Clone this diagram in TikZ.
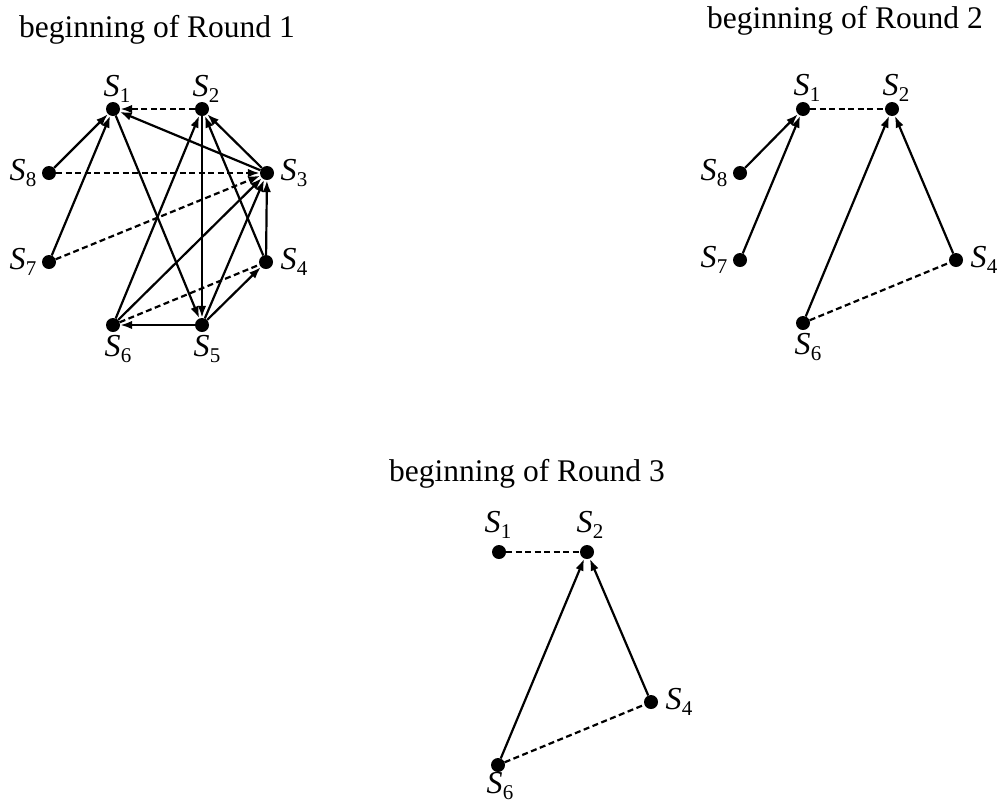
\documentclass[tikz,border=0pt]{standalone}
\usepackage{fontspec}
\setmainfont{Liberation Serif}
\usetikzlibrary{arrows.meta}
\newcommand\Slab[1]{\textit{S}\kern0.01em\raisebox{-0.18em}{\fontsize{21}{21}\selectfont #1}}
\begin{document}
\begin{tikzpicture}[x=1pt,y=-1pt,
  dot/.style={circle,fill=black,inner sep=0pt,minimum size=14pt},
  lab/.style={inner sep=0pt,font=\fontsize{32}{32}\selectfont},
  ttl/.style={inner sep=0pt,anchor=base,font=\fontsize{31.5}{31.5}\selectfont},
  edge/.style={line width=2.2pt},
  arr/.style={edge,-{Latex[length=12pt,width=8.5pt]}},
  dsh/.style={edge,dash pattern=on 6pt off 3.5pt},
  darr/.style={dsh,-{Latex[length=12pt,width=8.5pt]}}]
\useasboundingbox (0,0) rectangle (1000,801);
% titles
\node[ttl] (t1) at (157,37) {beginning of Round 1};
\node[ttl] (t2) at (845,28) {beginning of Round 2};
\node[ttl] (t3) at (527,481) {beginning of Round 3};
% graph 1
\node[dot] (a1) at (113,109) {};
\node[dot] (a2) at (202,109) {};
\node[dot] (a3) at (267,173) {};
\node[dot] (a4) at (266,262) {};
\node[dot] (a5) at (202,325) {};
\node[dot] (a6) at (113,325) {};
\node[dot] (a7) at (49,262) {};
\node[dot] (a8) at (49,173) {};
\node[lab] (a1l) at (117,89) {\Slab{1}};
\node[lab] (a2l) at (206,89) {\Slab{2}};
\node[lab] (a3l) at (294,173) {\Slab{3}};
\node[lab] (a4l) at (294,262) {\Slab{4}};
\node[lab] (a5l) at (207,349) {\Slab{5}};
\node[lab] (a6l) at (118,349) {\Slab{6}};
\node[lab] (a7l) at (23,262) {\Slab{7}};
\node[lab] (a8l) at (23,173) {\Slab{8}};
\draw[arr] (a8) -- (a1);
\draw[arr] (a7) -- (a1);
\draw[arr] (a3) -- (a1);
\draw[arr] (a1) -- (a5);
\draw[arr] (a2) -- (a5);
\draw[arr] (a3) -- (a2);
\draw[arr] (a4) -- (a2);
\draw[arr] (a6) -- (a2);
\draw[arr] (a6) -- (a3);
\draw[arr] (a5) -- (a3);
\draw[arr] (a4) -- (a3);
\draw[arr] (a5) -- (a4);
\draw[arr] (a5) -- (a6);
\draw[darr] (a2) -- (a1);
\draw[darr] (a8) -- (a3);
\draw[darr] (a7) -- (a3);
\draw[dsh] (a6) -- (a4);
% graph 2
\node[dot] (b1) at (803,109) {};
\node[dot] (b2) at (892,109) {};
\node[dot] (b4) at (956,260) {};
\node[dot] (b6) at (803,323) {};
\node[dot] (b7) at (740,260) {};
\node[dot] (b8) at (740,173) {};
\node[lab] (b1l) at (807,88) {\Slab{1}};
\node[lab] (b2l) at (896,88) {\Slab{2}};
\node[lab] (b4l) at (984,260) {\Slab{4}};
\node[lab] (b6l) at (808,347) {\Slab{6}};
\node[lab] (b7l) at (714,260) {\Slab{7}};
\node[lab] (b8l) at (714,173) {\Slab{8}};
\draw[arr] (b8) -- (b1);
\draw[arr] (b7) -- (b1);
\draw[arr] (b6) -- (b2);
\draw[arr] (b4) -- (b2);
\draw[dsh] (b1) -- (b2);
\draw[dsh] (b6) -- (b4);
% graph 3
\node[dot] (c1) at (499,552) {};
\node[dot] (c2) at (587,552) {};
\node[dot] (c4) at (651,702) {};
\node[dot] (c6) at (498,765) {};
\node[lab] (c1l) at (498,525) {\Slab{1}};
\node[lab] (c2l) at (590,525) {\Slab{2}};
\node[lab] (c4l) at (679,702) {\Slab{4}};
\node[lab] (c6l) at (500,786) {\Slab{6}};
\draw[arr] (c6) -- (c2);
\draw[arr] (c4) -- (c2);
\draw[dsh] (c1) -- (c2);
\draw[dsh] (c6) -- (c4);
\end{tikzpicture}
\end{document}
